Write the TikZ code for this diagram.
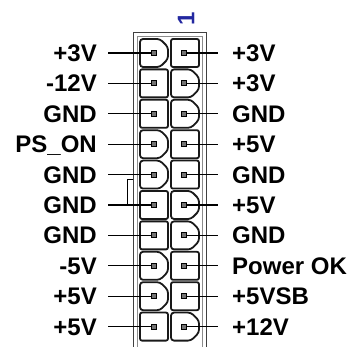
\documentclass[tikz,border=0pt]{standalone}
\usepackage{fontspec}
\setmainfont{Liberation Sans}
\usetikzlibrary{positioning}
\definecolor{markblue}{RGB}{35,40,160}

\begin{document}
\begin{tikzpicture}[x=1pt,y=-1pt]
  \tikzstyle{frame}=[draw=black!75,line width=0.9pt]
  \tikzstyle{cavity}=[draw=black!90,line width=1.8pt,fill=white,rounded corners=2pt]
  \tikzstyle{pin}=[draw=black,fill=black!55,line width=0.9pt,minimum size=5pt,inner sep=0pt]
  \tikzstyle{wire}=[line width=1.3pt]
  \tikzstyle{lbl}=[font=\bfseries\fontsize{24}{24}\selectfont,inner sep=0pt,text height=17.2pt,text depth=0pt]

  \useasboundingbox (0,0) rectangle (356,347);

  % housing
  \draw[frame] (133,347) -- (133,32) -- (206,32) -- (206,347);
  \draw[frame,draw=black!45] (137,347) -- (137,36) -- (202,36) -- (202,347);
  \node[text=markblue,font=\bfseries\fontsize{24}{24}\selectfont,rotate=90,inner sep=0pt] (one) at (186,19) {1};

  % rows: number / left label / right label / left cavity rounded / right cavity rounded
  \foreach \i/\a/\b/\cl/\cr in {1/+3V/+3V/1/0, 2/-12V/+3V/0/1, 3/GND/GND/0/1,
      4/PS\_ON/+5V/1/0, 5/GND/GND/1/0, 6/GND/+5V/0/1, 7/GND/GND/0/1,
      8/-5V/Power OK/1/0, 9/+5V/+5VSB/1/0, 10/+5V/+12V/0/1}{
    \pgfmathsetmacro{\y}{53+30.4*(\i-1)}
    \ifnum\cl=1
      \draw[cavity,rounded corners=3pt] (140,\y-14) -- (160,\y-14) -- (168,\y-6) -- (168,\y+6) -- (160,\y+14) -- (140,\y+14) -- cycle;
    \else
      \draw[cavity] (140,\y-14) rectangle (168,\y+14);
    \fi
    \ifnum\cr=1
      \draw[cavity,rounded corners=3pt] (171,\y-14) -- (191,\y-14) -- (199,\y-6) -- (199,\y+6) -- (191,\y+14) -- (171,\y+14) -- cycle;
    \else
      \draw[cavity] (171,\y-14) rectangle (199,\y+14);
    \fi
    \node[pin] (pl\i) at (154,\y) {};
    \node[pin] (pr\i) at (184,\y) {};
    \node[lbl,anchor=east] (la\i) at (97,\y) {\a};
    \node[lbl,anchor=west] (lb\i) at (232,\y) {\b};
    \draw[wire] ([xshift=11pt]la\i.east) -- (pl\i.west);
    \draw[wire] (pr\i.east) -- ([xshift=-14pt]lb\i.west);
  }

  % bridge between the two GND pins
  \coordinate (br) at (127,180);
  \draw[line width=1pt] (133,180) -- (br) |- (pl6.west);
\end{tikzpicture}
\end{document}
